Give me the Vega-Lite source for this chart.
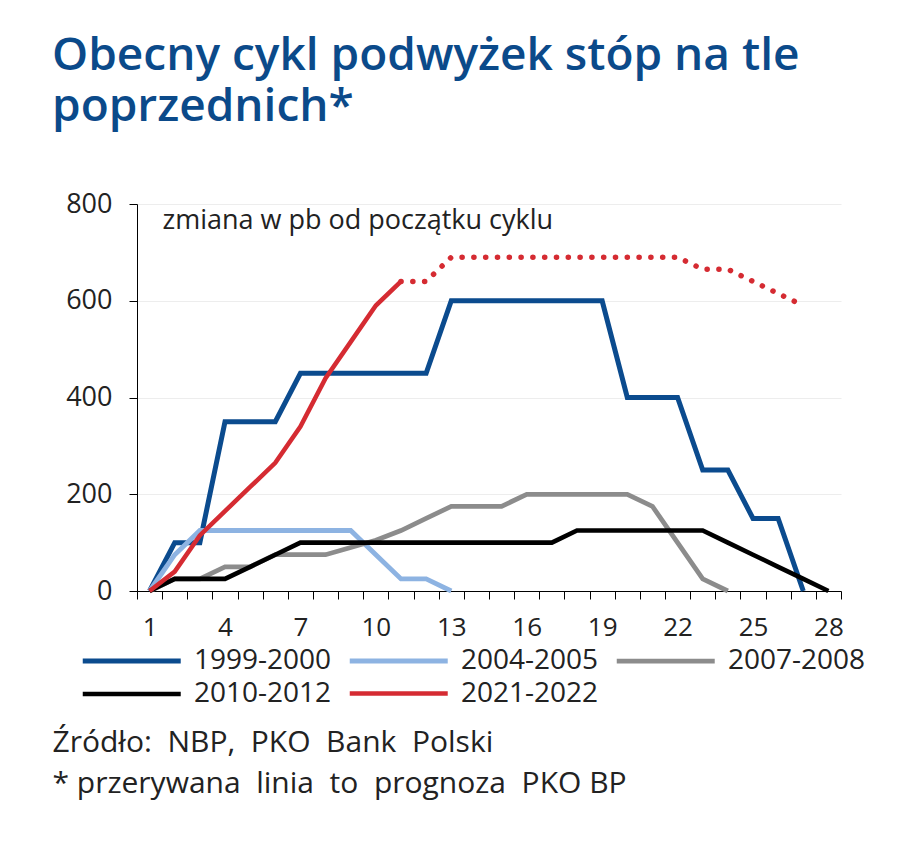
{
  "$schema": "https://vega.github.io/schema/vega-lite/v6.json",
  "width": 704,
  "height": 387,
  "padding": {"left": 52, "top": 33, "right": 10, "bottom": 10},
  "background": "white",
  "title": {
    "text": ["Obecny cykl podwyżek stóp na tle", "poprzednich*"],
    "anchor": "start",
    "frame": "group",
    "dx": -85,
    "font": "Open Sans",
    "fontSize": 46,
    "fontWeight": 600,
    "color": "#0b4a8a",
    "lineHeight": 51,
    "offset": 59
  },
  "datasets": {
    "hist": [
      {"s": "1999-2000", "m": 1, "v": 0}, {"s": "1999-2000", "m": 2, "v": 100}, {"s": "1999-2000", "m": 3, "v": 100},
      {"s": "1999-2000", "m": 4, "v": 350}, {"s": "1999-2000", "m": 5, "v": 350}, {"s": "1999-2000", "m": 6, "v": 350},
      {"s": "1999-2000", "m": 7, "v": 450}, {"s": "1999-2000", "m": 8, "v": 450}, {"s": "1999-2000", "m": 9, "v": 450},
      {"s": "1999-2000", "m": 10, "v": 450}, {"s": "1999-2000", "m": 11, "v": 450}, {"s": "1999-2000", "m": 12, "v": 450},
      {"s": "1999-2000", "m": 13, "v": 600}, {"s": "1999-2000", "m": 14, "v": 600}, {"s": "1999-2000", "m": 15, "v": 600},
      {"s": "1999-2000", "m": 16, "v": 600}, {"s": "1999-2000", "m": 17, "v": 600}, {"s": "1999-2000", "m": 18, "v": 600},
      {"s": "1999-2000", "m": 19, "v": 600}, {"s": "1999-2000", "m": 20, "v": 400}, {"s": "1999-2000", "m": 21, "v": 400},
      {"s": "1999-2000", "m": 22, "v": 400}, {"s": "1999-2000", "m": 23, "v": 250}, {"s": "1999-2000", "m": 24, "v": 250},
      {"s": "1999-2000", "m": 25, "v": 150}, {"s": "1999-2000", "m": 26, "v": 150}, {"s": "1999-2000", "m": 27, "v": 0},
      {"s": "2004-2005", "m": 1, "v": 0}, {"s": "2004-2005", "m": 2, "v": 75}, {"s": "2004-2005", "m": 3, "v": 125},
      {"s": "2004-2005", "m": 4, "v": 125}, {"s": "2004-2005", "m": 5, "v": 125}, {"s": "2004-2005", "m": 6, "v": 125},
      {"s": "2004-2005", "m": 7, "v": 125}, {"s": "2004-2005", "m": 8, "v": 125}, {"s": "2004-2005", "m": 9, "v": 125},
      {"s": "2004-2005", "m": 10, "v": 75}, {"s": "2004-2005", "m": 11, "v": 25}, {"s": "2004-2005", "m": 12, "v": 25},
      {"s": "2004-2005", "m": 13, "v": 0},
      {"s": "2007-2008", "m": 1, "v": 0}, {"s": "2007-2008", "m": 2, "v": 25}, {"s": "2007-2008", "m": 3, "v": 25},
      {"s": "2007-2008", "m": 4, "v": 50}, {"s": "2007-2008", "m": 5, "v": 50}, {"s": "2007-2008", "m": 6, "v": 75},
      {"s": "2007-2008", "m": 7, "v": 75}, {"s": "2007-2008", "m": 8, "v": 75}, {"s": "2007-2008", "m": 9, "v": 90},
      {"s": "2007-2008", "m": 10, "v": 105}, {"s": "2007-2008", "m": 11, "v": 125}, {"s": "2007-2008", "m": 12, "v": 150},
      {"s": "2007-2008", "m": 13, "v": 175}, {"s": "2007-2008", "m": 14, "v": 175}, {"s": "2007-2008", "m": 15, "v": 175},
      {"s": "2007-2008", "m": 16, "v": 200}, {"s": "2007-2008", "m": 17, "v": 200}, {"s": "2007-2008", "m": 18, "v": 200},
      {"s": "2007-2008", "m": 19, "v": 200}, {"s": "2007-2008", "m": 20, "v": 200}, {"s": "2007-2008", "m": 21, "v": 175},
      {"s": "2007-2008", "m": 22, "v": 100}, {"s": "2007-2008", "m": 23, "v": 25}, {"s": "2007-2008", "m": 24, "v": 0},
      {"s": "2010-2012", "m": 1, "v": 0}, {"s": "2010-2012", "m": 2, "v": 25}, {"s": "2010-2012", "m": 3, "v": 25},
      {"s": "2010-2012", "m": 4, "v": 25}, {"s": "2010-2012", "m": 5, "v": 50}, {"s": "2010-2012", "m": 6, "v": 75},
      {"s": "2010-2012", "m": 7, "v": 100}, {"s": "2010-2012", "m": 8, "v": 100}, {"s": "2010-2012", "m": 9, "v": 100},
      {"s": "2010-2012", "m": 10, "v": 100}, {"s": "2010-2012", "m": 11, "v": 100}, {"s": "2010-2012", "m": 12, "v": 100},
      {"s": "2010-2012", "m": 13, "v": 100}, {"s": "2010-2012", "m": 14, "v": 100}, {"s": "2010-2012", "m": 15, "v": 100},
      {"s": "2010-2012", "m": 16, "v": 100}, {"s": "2010-2012", "m": 17, "v": 100}, {"s": "2010-2012", "m": 18, "v": 125},
      {"s": "2010-2012", "m": 19, "v": 125}, {"s": "2010-2012", "m": 20, "v": 125}, {"s": "2010-2012", "m": 21, "v": 125},
      {"s": "2010-2012", "m": 22, "v": 125}, {"s": "2010-2012", "m": 23, "v": 125}, {"s": "2010-2012", "m": 24, "v": 100},
      {"s": "2010-2012", "m": 25, "v": 75}, {"s": "2010-2012", "m": 26, "v": 50}, {"s": "2010-2012", "m": 27, "v": 25},
      {"s": "2010-2012", "m": 28, "v": 0},
      {"s": "2021-2022", "m": 1, "v": 0}, {"s": "2021-2022", "m": 2, "v": 40}, {"s": "2021-2022", "m": 3, "v": 115},
      {"s": "2021-2022", "m": 4, "v": 165}, {"s": "2021-2022", "m": 5, "v": 215}, {"s": "2021-2022", "m": 6, "v": 265},
      {"s": "2021-2022", "m": 7, "v": 340}, {"s": "2021-2022", "m": 8, "v": 440}, {"s": "2021-2022", "m": 9, "v": 515},
      {"s": "2021-2022", "m": 10, "v": 590}, {"s": "2021-2022", "m": 11, "v": 640}
    ],
    "prog": [
      {"m": 11, "v": 640}, {"m": 12, "v": 640}, {"m": 13, "v": 690}, {"m": 14, "v": 690}, {"m": 15, "v": 690},
      {"m": 16, "v": 690}, {"m": 17, "v": 690}, {"m": 18, "v": 690}, {"m": 19, "v": 690}, {"m": 20, "v": 690},
      {"m": 21, "v": 690}, {"m": 22, "v": 690}, {"m": 23, "v": 665}, {"m": 24, "v": 665}, {"m": 25, "v": 640},
      {"m": 26, "v": 615}, {"m": 27, "v": 590}
    ]
  },
  "layer": [
    {
      "data": {"name": "hist"},
      "mark": {"type": "line"},
      "encoding": {
        "x": {
          "field": "m",
          "type": "ordinal",
          "scale": {"type": "band", "paddingInner": 0, "paddingOuter": 0},
          "axis": {
            "title": ["Źródło:\u00a0 NBP,\u00a0 PKO\u00a0 Bank\u00a0 Polski", "* przerywana\u00a0 linia\u00a0 to\u00a0 prognoza\u00a0 PKO BP"],
            "titleX": -85,
            "titleY": 136,
            "titleAlign": "left",
            "titleAnchor": "start",
            "titleBaseline": "top",
            "titleFont": "Open Sans",
            "titleFontSize": 30,
            "titleFontWeight": "normal",
            "titleColor": "#222222",
            "titleLineHeight": 41,
            "labelAngle": 0,
            "labelExpr": "(datum.value - 1) % 3 == 0 ? datum.label : ''",
            "labelOverlap": false,
            "tickBand": "extent",
            "tickSize": 8,
            "tickColor": "#000000",
            "domainColor": "#000000",
            "labelFont": "Open Sans",
            "labelFontSize": 26,
            "labelColor": "#222222",
            "labelPadding": 15,
            "grid": false
          }
        },
        "y": {
          "field": "v",
          "type": "quantitative",
          "scale": {"domain": [0, 800], "nice": false},
          "axis": {
            "title": "zmiana w pb od początku cyklu",
            "titleAngle": 0,
            "titleX": 25,
            "titleY": 24,
            "titleAlign": "left",
            "titleBaseline": "alphabetic",
            "titleFont": "Open Sans",
            "titleFontSize": 27,
            "titleFontWeight": "normal",
            "titleColor": "#222222",
            "values": [0, 200, 400, 600, 800],
            "grid": true,
            "gridColor": "#ededed",
            "tickSize": 8,
            "tickColor": "#000000",
            "domainColor": "#000000",
            "labelFont": "Open Sans",
            "labelFontSize": 27,
            "labelColor": "#222222",
            "labelPadding": 17
          }
        },
        "color": {
          "field": "s",
          "type": "nominal",
          "scale": {
            "domain": ["1999-2000", "2004-2005", "2007-2008", "2010-2012", "2021-2022"],
            "range": ["#0b4b8e", "#8db3e2", "#8c8c8c", "#000000", "#d52b32"]
          },
          "legend": {
            "orient": "none",
            "direction": "horizontal",
            "legendX": -57,
            "legendY": 442,
            "columns": 3,
            "title": null,
            "symbolType": "M-1,0H7",
            "symbolSize": 600,
            "symbolStrokeWidth": 5,
            "labelFont": "Open Sans",
            "labelFontSize": 28,
            "labelColor": "#222222",
            "labelOffset": 84,
            "columnPadding": 8,
            "rowPadding": 4
          }
        },
        "strokeWidth": {
          "field": "s",
          "type": "nominal",
          "scale": {
            "domain": ["1999-2000", "2004-2005", "2007-2008", "2010-2012", "2021-2022"],
            "range": [5, 4.5, 5, 5, 6]
          },
          "legend": null
        }
      }
    },
    {
      "data": {"name": "prog"},
      "mark": {"type": "line", "color": "#d52b32", "strokeWidth": 5.5, "strokeDash": [0.1, 11.7], "strokeCap": "round"},
      "encoding": {
        "x": {"field": "m", "type": "ordinal"},
        "y": {"field": "v", "type": "quantitative"}
      }
    }
  ],
  "config": {
    "view": {"stroke": null},
    "axis": {"domainWidth": 1, "tickWidth": 1}
  }
}
